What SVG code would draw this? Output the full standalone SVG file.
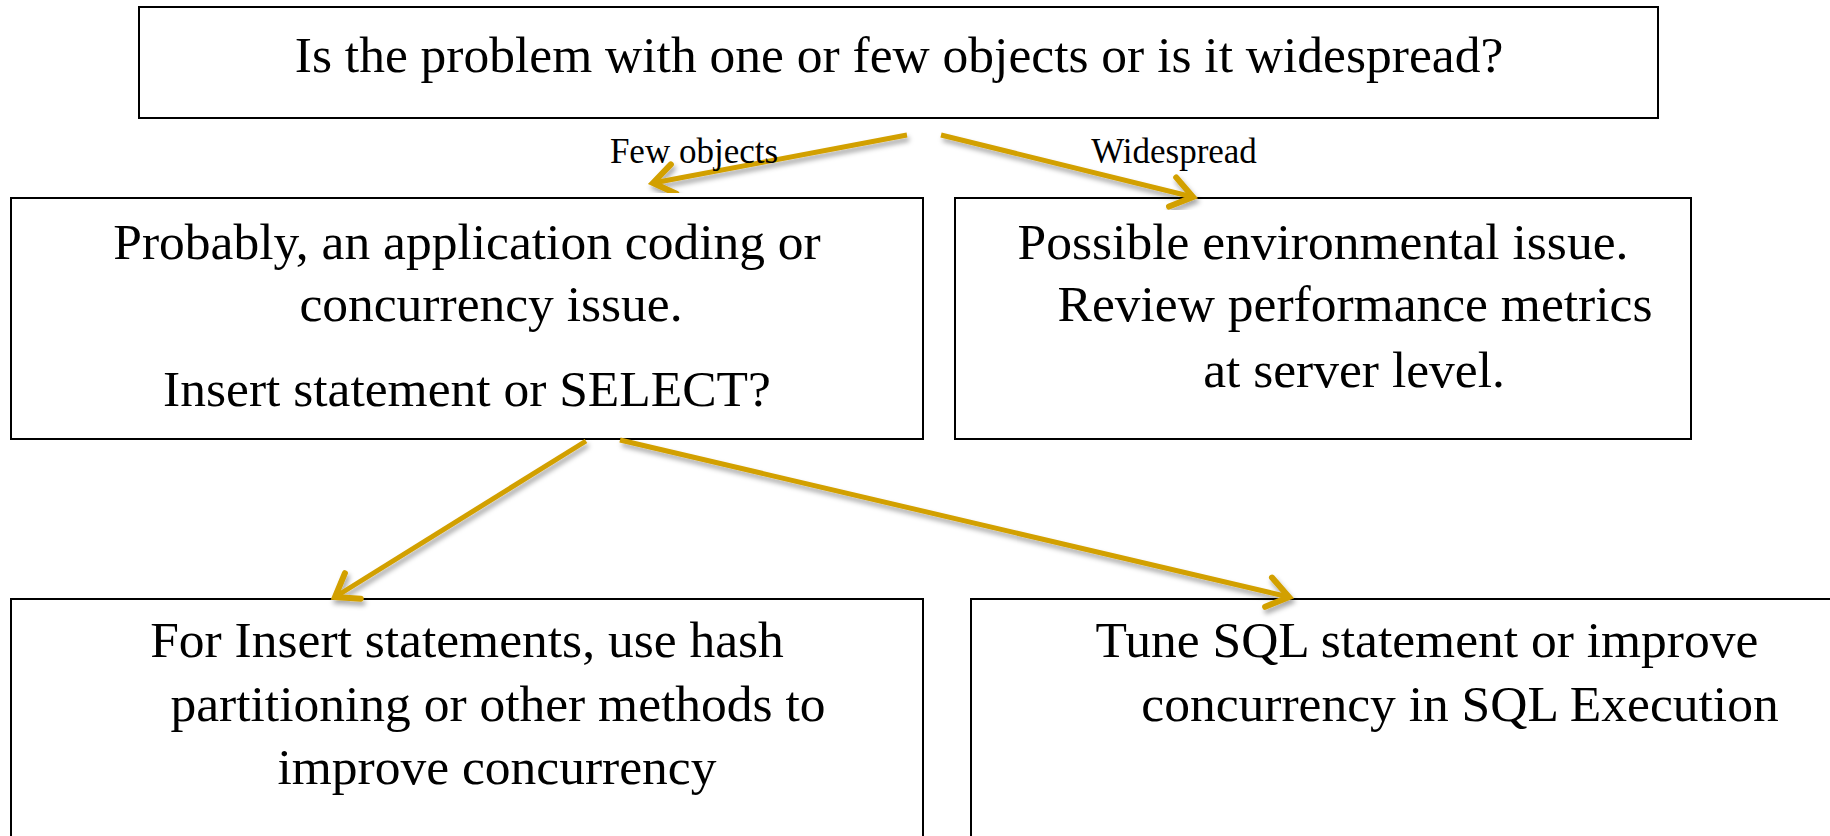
<svg xmlns="http://www.w3.org/2000/svg" width="1830" height="836" viewBox="0 0 1830 836">
  <style>
    .box { fill: #ffffff; stroke: #000000; stroke-width: 2; }
    .txt { font-family: "Liberation Serif", "Times New Roman", serif; font-size: 51.5px; fill: #000000; text-anchor: middle; }
    .lbl { font-family: "Liberation Serif", "Times New Roman", serif; font-size: 35px; fill: #000000; text-anchor: middle; }
    .edge { fill: none; stroke: #D2A000; stroke-width: 5; stroke-linecap: butt; marker-end: url(#chevron); filter: url(#shade); }
  </style>
  <defs>
    <marker id="chevron" markerUnits="userSpaceOnUse" markerWidth="40" markerHeight="40" refX="26" refY="18" orient="auto" overflow="visible">
      <path d="M5,3 L26,18 L5,33" fill="none" stroke="#D2A000" stroke-width="6" stroke-linejoin="miter" stroke-linecap="round"/>
    </marker>
    <filter id="shade" x="-20%" y="-20%" width="140%" height="140%">
      <feDropShadow dx="2" dy="4" stdDeviation="2.5" flood-color="#000000" flood-opacity="0.35"/>
    </filter>
  </defs>
  <rect width="1830" height="836" fill="#ffffff"/>

  <g id="question">
    <rect class="box" x="139" y="7" width="1519" height="111"/>
    <text class="txt" x="899" y="72">Is the problem with one or few objects or is it widespread?</text>
  </g>

  <g id="app-issue">
    <rect class="box" x="11" y="198" width="912" height="241"/>
    <text class="txt" x="467" y="259">Probably, an application coding or</text>
    <text class="txt" x="491" y="321">concurrency issue.</text>
    <text class="txt" x="467" y="406">Insert statement or SELECT?</text>
  </g>

  <g id="env-issue">
    <rect class="box" x="955" y="198" width="736" height="241"/>
    <text class="txt" x="1323" y="259">Possible environmental issue.</text>
    <text class="txt" x="1355" y="321">Review performance metrics</text>
    <text class="txt" x="1354" y="387">at server level.</text>
  </g>

  <g id="insert-fix">
    <rect class="box" x="11" y="599" width="912" height="260"/>
    <text class="txt" x="467" y="657">For Insert statements, use hash</text>
    <text class="txt" x="498" y="721">partitioning or other methods to</text>
    <text class="txt" x="497" y="784">improve concurrency</text>
  </g>

  <g id="select-fix">
    <rect class="box" x="971" y="599" width="900" height="260"/>
    <text class="txt" x="1427" y="657">Tune SQL statement or improve</text>
    <text class="txt" x="1460" y="721">concurrency in SQL Execution</text>
  </g>

  <g id="connectors">
    <line class="edge" x1="907" y1="135" x2="653" y2="183"/>
    <line class="edge" x1="941" y1="135" x2="1193" y2="197"/>
    <line class="edge" x1="586" y1="441" x2="335" y2="597"/>
    <line class="edge" x1="620" y1="440" x2="1289" y2="597"/>
    <text class="lbl" x="694" y="163">Few objects</text>
    <text class="lbl" x="1174" y="163">Widespread</text>
  </g>
</svg>
